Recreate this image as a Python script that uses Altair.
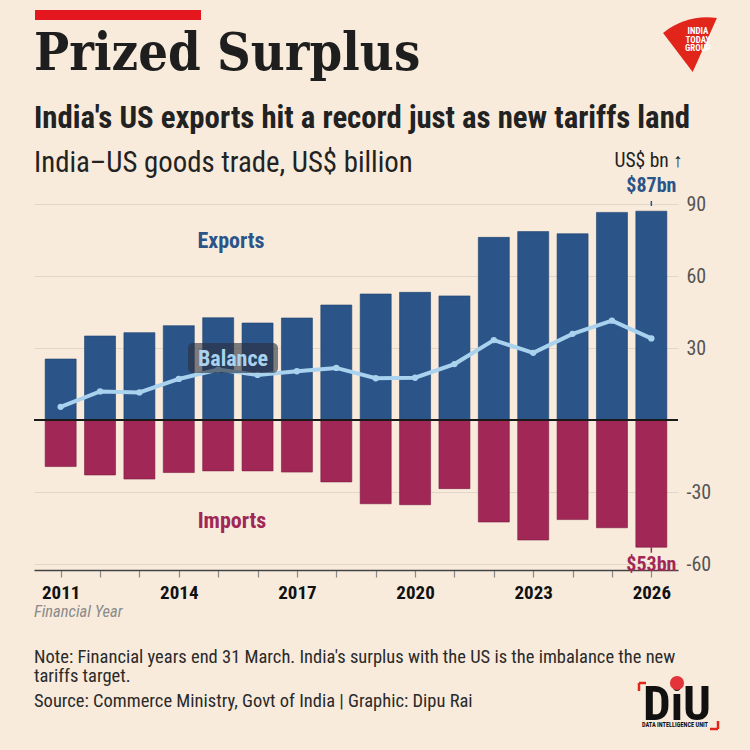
import altair as alt
import pandas as pd

# India-US goods trade by financial year, US$ billion
years = list(range(2011, 2027))
exports = [25.4, 35.0, 36.4, 39.3, 42.6, 40.4, 42.5, 47.9, 52.5, 53.2, 51.7, 76.1, 78.5, 77.6, 86.5, 87.0]
imports = [-19.4, -22.9, -24.6, -21.9, -21.2, -21.2, -21.7, -25.8, -34.9, -35.3, -28.6, -42.5, -50.0, -41.5, -44.9, -53.0]
balance = [5.5, 11.9, 11.5, 17.1, 21.0, 18.8, 20.3, 21.7, 17.4, 17.6, 23.3, 33.3, 28.0, 35.9, 41.4, 34.0]
y_ticks = [-60, -30, 30, 60, 90]

BG = "#f8ebdc"
BLUE = "#2b5489"
RED = "#a12856"
LINE = "#a9d2ee"
COND = "Roboto Condensed, sans-serif"
SLAB = "DejaVu Serif Condensed, DejaVu Serif, serif"
W, H = 644, 366

df = pd.DataFrame({"year": years, "exports": exports, "imports": imports, "balance": balance})

xs = alt.Scale(domain=[2010.45, 2026.55], nice=False, zero=False)
ys = alt.Scale(domain=[-62.5, 90], nice=False)

x_axis = alt.Axis(values=years, labelExpr="(datum.value - 2011) % 3 == 0 ? datum.value : ''",
                  title=None, grid=False, domainColor="#444", domainWidth=1.5,
                  tickColor="#888", tickSize=7, tickWidth=1.2, labelFontSize=19,
                  labelFont=COND, labelFontWeight="bold", labelColor="#111", labelPadding=6)
y_axis = alt.Axis(values=y_ticks, orient="right", title=None, domain=False, ticks=False,
                  grid=True, gridColor="#e0d6c9", gridWidth=1.2, labelFontSize=20,
                  labelFont=COND, labelColor="#555", labelPadding=8,
                  labelExpr="'' + datum.value")

base = alt.Chart(df)

bars_exp = base.mark_bar(size=31, color=BLUE, stroke="#1d3f6e", strokeWidth=0.6).encode(
    x=alt.X("year:Q", scale=xs, axis=x_axis),
    y=alt.Y("exports:Q", scale=ys, axis=y_axis),
    y2=alt.datum(0),
)
bars_imp = base.mark_bar(size=31, color=RED, stroke="#7d1a40", strokeWidth=0.6).encode(
    x=alt.X("year:Q", scale=xs),
    y=alt.Y("imports:Q", scale=ys),
    y2=alt.datum(0),
)
zero = alt.Chart(pd.DataFrame({"v": [0]})).mark_rule(color="#1a1a1a", strokeWidth=2).encode(
    y=alt.Y("v:Q", scale=ys), x=alt.value(0), x2=alt.value(W)
)
line = base.mark_line(color=LINE, strokeWidth=4, point=alt.OverlayMarkDef(color=LINE, size=40, filled=True, opacity=1)).encode(
    x=alt.X("year:Q", scale=xs), y=alt.Y("balance:Q", scale=ys)
)

# Balance label box, drawn over the line
bal_box = alt.Chart(pd.DataFrame({"a": [0]})).mark_rect(color="#2c2f3a", opacity=0.6, cornerRadius=5).encode(
    x=alt.value(154), x2=alt.value(244), y=alt.value(139), y2=alt.value(169)
)


def txt(s, x, y, size, color="#222", weight="normal", font=COND, align="left", style="normal"):
    return alt.Chart(pd.DataFrame({"t": [s]})).mark_text(
        align=align, baseline="alphabetic", fontSize=size, font=font, fontWeight=weight,
        color=color, fontStyle=style
    ).encode(x=alt.value(x), y=alt.value(y), text="t:N")


texts = [
    txt("Prized Surplus", 0, -134, 52, "#1e1e1e", "bold", SLAB),
    txt("India's US exports hit a record just as new tariffs land", 0, -76, 30.8, "#222", "bold"),
    txt("India\u2013US goods trade, US$ billion", 0, -32, 28.8, "#222"),
    txt("US$ bn \u2191", 649, -37, 19.5, "#222", align="right"),
    txt("Exports", 197, 44, 22, BLUE, "bold", align="center"),
    txt("Balance", 199, 162, 22, LINE, "bold", align="center"),
    txt("Imports", 198, 324, 22, RED, "bold", align="center"),
    txt("Financial Year", 0, 413, 16.5, "#8a8a8a", style="italic"),
    txt("Note: Financial years end 31 March. India's surplus with the US is the imbalance the new", 0, 459, 18.5, "#2a2a2a"),
    txt("tariffs target.", 0, 478, 18.5, "#2a2a2a"),
    txt("Source: Commerce Ministry, Govt of India | Graphic: Dipu Rai", 0, 503, 18.5, "#2a2a2a"),
]

# value callouts on the final year
ann = pd.DataFrame({"year": [2026, 2026], "v": [87.0, -53.0], "t": ["$87bn", "$53bn"]})
call87 = alt.Chart(ann.iloc[[0]]).mark_text(fontSize=20, font=COND, fontWeight="bold", color=BLUE,
                                            baseline="alphabetic", dy=-19).encode(
    x=alt.X("year:Q", scale=xs), y=alt.Y("v:Q", scale=ys), text="t:N")
call53 = alt.Chart(ann.iloc[[1]]).mark_text(fontSize=20, font=COND, fontWeight="bold", color=RED,
                                            baseline="alphabetic", dy=24).encode(
    x=alt.X("year:Q", scale=xs), y=alt.Y("v:Q", scale=ys), text="t:N")
tick87 = alt.Chart(ann.iloc[[0]]).mark_rule(color=BLUE, strokeWidth=1.5).encode(
    x=alt.X("year:Q", scale=xs), y=alt.value(-3), y2=alt.value(2))
tick53 = alt.Chart(ann.iloc[[1]]).mark_rule(color=RED, strokeWidth=1.5).encode(
    x=alt.X("year:Q", scale=xs), y=alt.Y("v:Q", scale=ys), y2=alt.datum(-55.3))

# top accent bar
accent = alt.Chart(pd.DataFrame({"a": [0]})).mark_rect(color="#e3171d").encode(
    x=alt.value(1), x2=alt.value(167), y=alt.value(-194), y2=alt.value(-184))

# publisher marks
wedge = alt.Chart(pd.DataFrame({"a": [0]})).mark_point(
    shape="M -1 -0.45 Q -0.1 -1.15 1 -1 L 0.1 1 Z", filled=True, color="#e1251b", opacity=1, size=2900
).encode(x=alt.value(656), y=alt.value(-159))
logo_txt = [
    txt("INDIA", 664, -170, 9, "white", "bold", align="center"),
    txt("TODAY", 664, -161.5, 9, "white", "bold", align="center"),
    txt("GROUP", 664, -153, 9, "white", "bold", align="center"),
]
diu = [
    txt("DiU", 643, 516, 49, "#111", "bold", align="center"),
    txt("DATA INTELLIGENCE UNIT", 641, 523, 6.3, "#111", "bold", align="center"),
]
diu_dot = alt.Chart(pd.DataFrame({"a": [0]})).mark_point(filled=True, color="#e2343a", opacity=1, size=200).encode(
    x=alt.value(643), y=alt.value(479))


def seg(x1, y1, x2, y2):
    enc = {"x": alt.value(x1), "y": alt.value(y1)}
    if x2 != x1:
        enc["x2"] = alt.value(x2)
    if y2 != y1:
        enc["y2"] = alt.value(y2)
    return alt.Chart(pd.DataFrame({"a": [0]})).mark_rule(color="#e1251b", strokeWidth=2.5).encode(**enc)


brackets = [seg(605, 479, 612, 479), seg(605, 479, 605, 487),
            seg(676, 525, 684, 525), seg(684, 517, 684, 525)]

chart = alt.layer(
    bars_exp, bars_imp, zero, line, bal_box, *texts, call87, call53, tick87, tick53, accent,
    wedge, *logo_txt, *brackets, *diu, diu_dot
).properties(
    width=W, height=H, autosize="none",
    padding={"left": 34, "top": 204, "right": 72, "bottom": 180},
    background=BG,
).configure_view(stroke=None)

chart.save("out.html", embed_options={"renderer": "svg", "actions": False})
